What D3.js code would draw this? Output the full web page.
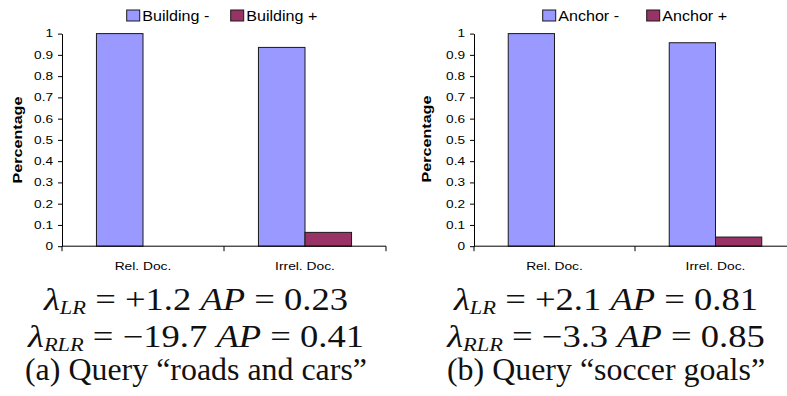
<!DOCTYPE html>
<html lang="en">
<head>
<meta charset="UTF-8">
<title>Query term weights</title>
<script src="https://cdn.jsdelivr.net/npm/d3@7/dist/d3.min.js"></script>
<style>
  body { margin: 0; background: #fff; }
  svg { display: block; }
  .tick text { font-family: Arial, "Liberation Sans", sans-serif; fill: #000; }
</style>
</head>
<body>
<div id="chart"></div>
<script>
// data
const categories = ["Rel. Doc.", "Irrel. Doc."];
const yTickValues = [0, 0.1, 0.2, 0.3, 0.4, 0.5, 0.6, 0.7, 0.8, 0.9, 1];

const buildingNames = ["Building -", "Building +"];
const buildingMinus = [1, 0.935];
const buildingPlus = [0, 0.065];

const anchorNames = ["Anchor -", "Anchor +"];
const anchorMinus = [1, 0.957];
const anchorPlus = [0, 0.043];

const seriesColors = ["#9999FF", "#993366"];

// caption lines: [lambda subscript, lambda value, AP value]
const captionA = [["LR", "+1.2", "0.23"], ["RLR", "\u221219.7", "0.41"]];
const captionB = [["LR", "+2.1", "0.81"], ["RLR", "\u22123.3", "0.85"]];
const titleA = "(a) Query \u201croads and cars\u201d";
const titleB = "(b) Query \u201csoccer goals\u201d";

const W = 787, H = 396;
const serif = "'Liberation Serif', 'Times New Roman', 'DejaVu Serif', serif";
const sans = "Arial, 'Liberation Sans', sans-serif";

const svg = d3.select("#chart").append("svg").attr("width", W).attr("height", H);

const y = d3.scaleLinear().domain([0, 1]).range([246.2, 33.6]);

function drawPanel(opt) {
  const g = svg.append("g");
  const x = d3.scaleBand().domain(categories).range([opt.x0, opt.x1]);
  const xs = d3.scaleBand().domain([0, 1]).range([0, x.bandwidth()]).paddingOuter(0.74);

  // y axis
  const yAxis = g.append("g").attr("transform", `translate(${opt.x0},0)`)
    .call(d3.axisLeft(y).tickValues(yTickValues).tickSize(4).tickSizeOuter(0).tickFormat(d3.format("~g")));
  yAxis.select(".domain").attr("stroke", "#000");
  yAxis.selectAll(".tick line").attr("stroke", "#000");
  yAxis.selectAll(".tick text")
    .style("font-size", "10.5px")
    .attr("transform", "scale(1.3,1)")
    .attr("x", -9 / 1.3);

  // bars
  categories.forEach((c, i) => {
    [opt.minus[i], opt.plus[i]].forEach((v, s) => {
      if (v <= 0) return;
      g.append("rect")
        .attr("x", x(c) + xs(s))
        .attr("y", y(v))
        .attr("width", xs.bandwidth())
        .attr("height", y(0) - y(v))
        .attr("fill", seriesColors[s])
        .attr("stroke", "#1a1a1a")
        .attr("stroke-width", 1);
    });
  });

  // x axis with ticks at the band edges
  g.append("line").attr("x1", opt.x0).attr("x2", opt.x1)
    .attr("y1", y(0)).attr("y2", y(0)).attr("stroke", "#000");
  const edges = categories.map(c => x(c)).concat([opt.x1]);
  g.selectAll(".xtick").data(edges).enter().append("line")
    .attr("x1", d => d).attr("x2", d => d)
    .attr("y1", y(0)).attr("y2", y(0) + 5).attr("stroke", "#000");
  g.selectAll(".xlab").data(categories).enter().append("text")
    .attr("transform", d => `translate(${x(d) + x.bandwidth() / 2},270) scale(1.2,1)`)
    .attr("text-anchor", "middle")
    .style("font-family", sans)
    .style("font-size", "11.5px")
    .text(d => d);

  // y label
  g.append("text")
    .attr("transform", `translate(${opt.labelX},${opt.labelY}) rotate(-90) scale(1.24,1)`)
    .attr("text-anchor", "middle")
    .style("font-family", sans)
    .style("font-weight", "bold")
    .style("font-size", "13px")
    .text("Percentage");

  // legend
  opt.names.forEach((n, s) => {
    const lx = opt.legendX[s];
    g.append("rect").attr("x", lx).attr("y", 10).attr("width", 13).attr("height", 11)
      .attr("fill", seriesColors[s]).attr("stroke", "#1a1a1a");
    g.append("text")
      .attr("transform", `translate(${lx + 15.5},20.5) scale(1.15,1)`)
      .style("font-family", sans)
      .style("font-size", "14px")
      .text(n);
  });

  // caption, set in a wide serif like the TeX original
  opt.caption.forEach((row, k) => {
    const t = svg.append("text")
      .attr("transform", `translate(${opt.cx},${[309.5, 346.5][k]}) scale(1.18,1)`)
      .attr("text-anchor", "middle")
      .style("font-family", serif)
      .style("font-size", "31px")
      .attr("fill", "#111");
    t.append("tspan").style("font-style", "italic").text("\u03bb");
    t.append("tspan").style("font-style", "italic").style("font-size", "19px")
      .attr("dy", 4).text(row[0]);
    t.append("tspan").attr("dy", -4).text(" = " + row[1] + " ");
    t.append("tspan").style("font-style", "italic").text("AP");
    t.append("tspan").text(" = " + row[2]);
  });
  svg.append("text")
    .attr("transform", `translate(${opt.cx},380) scale(1.03,1)`)
    .attr("text-anchor", "middle")
    .style("font-family", serif)
    .style("font-size", "31px")
    .attr("fill", "#111")
    .text(opt.title);
}

drawPanel({
  x0: 62, x1: 386, names: buildingNames, minus: buildingMinus, plus: buildingPlus,
  legendX: [126.7, 230.7], labelX: 21.5, labelY: 140,
  caption: captionA, title: titleA, cx: 196
});
drawPanel({
  x0: 474, x1: 796, names: anchorNames, minus: anchorMinus, plus: anchorPlus,
  legendX: [542.7, 646.7], labelX: 431, labelY: 139,
  caption: captionB, title: titleB, cx: 606
});
</script>
</body>
</html>
